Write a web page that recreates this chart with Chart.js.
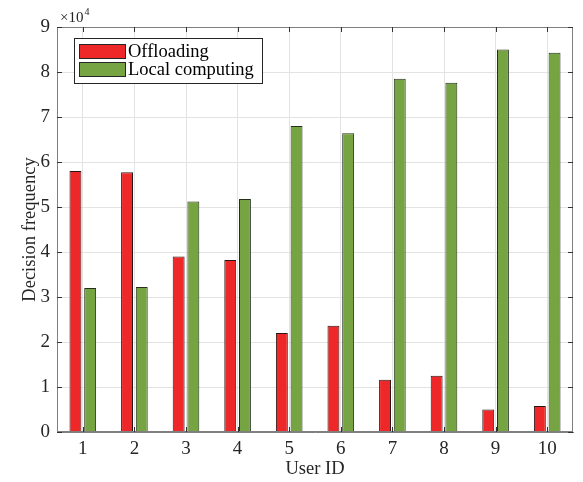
<!DOCTYPE html>
<html>
<head>
<meta charset="utf-8">
<script src="https://cdn.jsdelivr.net/npm/chart.js@4"></script>
<style>
html,body{margin:0;padding:0;background:#fff;}
#wrap{width:583px;height:482px;position:relative;}
</style>
</head>
<body>
<div id="wrap"><canvas id="c" width="583" height="482"></canvas></div>
<script>
const userIds = ['1','2','3','4','5','6','7','8','9','10'];
const offloading = [58000, 57700, 39000, 38200, 22000, 23600, 11600, 12500, 5000, 5800];
const localComputing = [32000, 32200, 51200, 51800, 68000, 66400, 78500, 77600, 85000, 84300];
const yTicks = [0,1,2,3,4,5,6,7,8,9];
const seriesNames = ['Offloading', 'Local computing'];
const exponentLabel = ['\u00d710', '4'];

const FONT = 'Liberation Serif, Times New Roman, serif';
const AXIS = '#7f7f7f';

const framePlugin = {
  id: 'frame',
  afterDatasetsDraw(chart) {
    const {ctx, chartArea: a, scales} = chart;
    ctx.save();
    ctx.strokeStyle = AXIS;
    ctx.lineWidth = 1;
    ctx.strokeRect(Math.round(a.left)+0.5, Math.round(a.top)+0.5, Math.round(a.right-a.left)-1, Math.round(a.bottom-a.top)-1);
    ctx.strokeStyle = '#333';
    const tl = 5;
    ctx.beginPath();
    scales.x.ticks.forEach((t, i) => {
      const x = Math.round(scales.x.getPixelForTick(i)) + 0.5;
      ctx.moveTo(x, a.bottom); ctx.lineTo(x, a.bottom - tl);
      ctx.moveTo(x, a.top); ctx.lineTo(x, a.top + tl);
    });
    scales.y.ticks.forEach((t) => {
      const y = Math.round(scales.y.getPixelForValue(t.value)) + 0.5;
      ctx.moveTo(a.left, y); ctx.lineTo(a.left + tl, y);
      ctx.moveTo(a.right, y); ctx.lineTo(a.right - tl, y);
    });
    ctx.stroke();
    // exponent label
    ctx.fillStyle = '#262626';
    ctx.textBaseline = 'alphabetic';
    ctx.textAlign = 'left';
    ctx.font = '15px ' + FONT;
    const ex = a.left + 3, ey = a.top - 5;
    ctx.fillText(exponentLabel[0], ex, ey);
    const w = ctx.measureText(exponentLabel[0]).width;
    ctx.font = '10px ' + FONT;
    ctx.fillText(exponentLabel[1], ex + w + 1, ey - 7);
    // legend
    const lx = a.left + 17, ly = a.top + 11, lw = 188, lh = 45;
    ctx.fillStyle = '#fff';
    ctx.fillRect(lx, ly, lw, lh);
    ctx.strokeStyle = '#262626';
    ctx.strokeRect(lx + 0.5, ly + 0.5, lw, lh);
    ctx.font = '18.5px ' + FONT;
    ctx.textBaseline = 'middle';
    chart.data.datasets.forEach((ds, i) => {
      const rowY = ly + 6 + i * 18;
      ctx.fillStyle = ds.backgroundColor;
      ctx.fillRect(lx + 5, rowY, 47, 15);
      ctx.strokeStyle = '#262626';
      ctx.strokeRect(lx + 5.5, rowY + 0.5, 46, 14);
      ctx.fillStyle = '#000';
      ctx.fillText(ds.label, lx + 54, rowY + 8);
    });
    ctx.restore();
  }
};

new Chart(document.getElementById('c'), {
  type: 'bar',
  data: {
    labels: userIds,
    datasets: [
      { label: seriesNames[0], data: offloading, backgroundColor: '#ee2828', borderColor: '#2a1414', borderWidth: 1, borderSkipped: 'bottom' },
      { label: seriesNames[1], data: localComputing, backgroundColor: '#77a443', borderColor: '#24301a', borderWidth: 1, borderSkipped: 'bottom' }
    ]
  },
  options: {
    responsive: false,
    animation: false,
    devicePixelRatio: 1,
    layout: { padding: { left: 0, right: 10, top: 27, bottom: 0 } },
    categoryPercentage: 0.57,
    barPercentage: 0.81,
    plugins: { legend: { display: false }, tooltip: { enabled: false } },
    scales: {
      x: {
        type: 'category',
        offset: true,
        grid: { display: true, color: '#e3e3e3', offset: false, drawTicks: false },
        border: { display: true, color: AXIS },
        ticks: { color: '#262626', font: { family: FONT, size: 19 }, padding: 6, maxRotation: 0 },
        title: { display: true, text: 'User ID', color: '#262626', font: { family: FONT, size: 18.5 }, padding: { top: 0, bottom: 2 } },
        afterFit(s) { s.height = 50; }
      },
      y: {
        min: 0, max: 90000,
        afterBuildTicks(s) { s.ticks = yTicks.map(v => ({ value: v * 10000 })); },
        grid: { color: '#e3e3e3', drawTicks: false },
        border: { display: true, color: AXIS },
        ticks: { color: '#262626', font: { family: FONT, size: 19 }, padding: 7, callback: v => String(v / 10000) },
        title: { display: true, text: 'Decision frequency', color: '#262626', font: { family: FONT, size: 18.5 }, padding: { top: 19, bottom: 0 } },
        afterFit(s) { s.width = 57; }
      }
    }
  },
  plugins: [framePlugin]
});
</script>
</body>
</html>
